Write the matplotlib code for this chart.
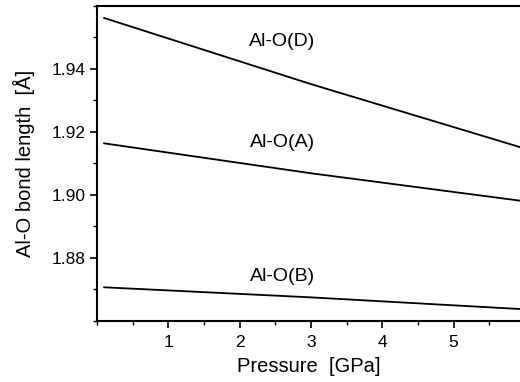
import matplotlib
matplotlib.use("Agg")
import matplotlib.pyplot as plt
from matplotlib.ticker import MultipleLocator

plt.rcParams["font.family"] = ["Liberation Sans", "DejaVu Sans"]

# values
pressure = [0.1, 3.0, 5.93]
al_o_d = [1.9562, 1.9352, 1.9152]
al_o_a = [1.9164, 1.9069, 1.8982]
al_o_b = [1.8707, 1.8675, 1.8638]

labels = ["Al-O(D)", "Al-O(A)", "Al-O(B)"]
label_pos = [(2.6, 1.9486), (2.6, 1.9168), (2.6, 1.8740)]

fig = plt.figure(figsize=(5.2, 3.82), dpi=100)
ax = fig.add_axes([0.1865, 0.1597, 0.8135, 0.8246])

for series in (al_o_d, al_o_a, al_o_b):
    ax.plot(pressure, series, color="black", lw=1.3)

for text, (x, y) in zip(labels, label_pos):
    ax.text(x, y, text, ha="center", va="center", fontsize=14)

ax.set_xlim(0, 5.93)
ax.set_ylim(1.86, 1.96)
ax.xaxis.set_minor_locator(MultipleLocator(0.5))
ax.yaxis.set_minor_locator(MultipleLocator(0.01))
ax.set_xticks([1, 2, 3, 4, 5])
ax.set_yticks([1.88, 1.90, 1.92, 1.94])
ax.set_yticklabels(["1.88", "1.90", "1.92", "1.94"])

ax.tick_params(which="major", direction="out", length=5, width=1.2, labelsize=12.5)
ax.tick_params(which="minor", direction="out", length=3, width=1.0)
ax.tick_params(axis="y", pad=3)
ax.tick_params(axis="x", pad=5)

ax.spines["right"].set_visible(False)
for side in ("left", "top", "bottom"):
    ax.spines[side].set_linewidth(1.5)

ax.set_xlabel("Pressure  [GPa]", fontsize=14.5, labelpad=5)
ax.set_ylabel("Al-O bond length  [Å]", fontsize=14.5, labelpad=12)

fig.savefig("out.png", dpi=100)
